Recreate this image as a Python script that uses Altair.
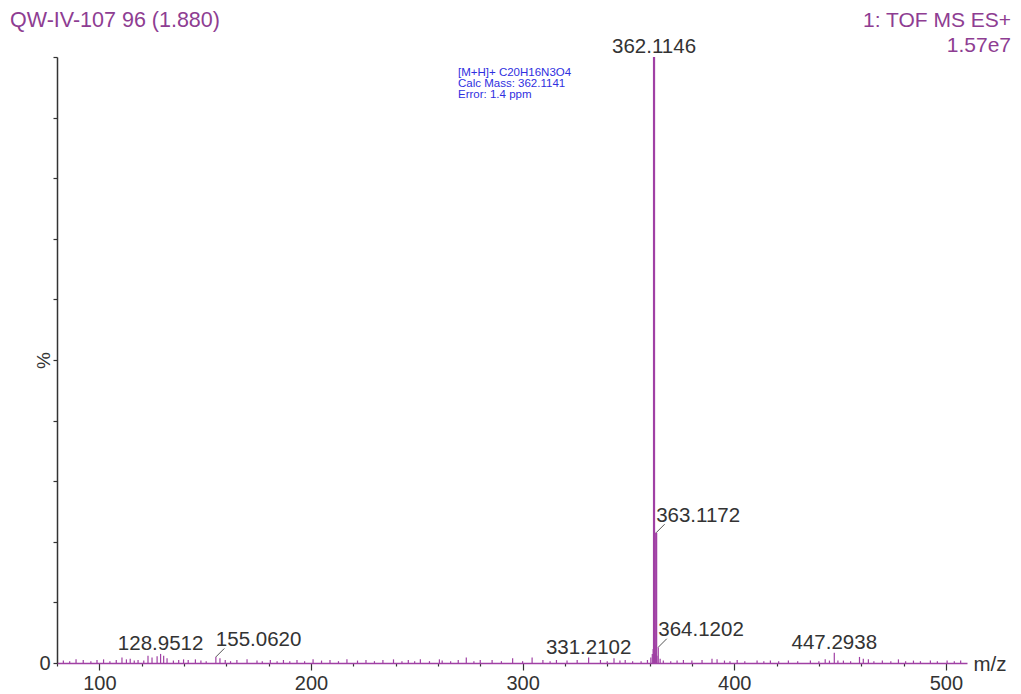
import altair as alt
import pandas as pd

# ---------------- data ----------------
peak_mz = [83, 86, 89, 92.4, 96, 98.9, 102, 105, 108, 110.7, 112.8, 114.6, 116.5, 118.3,
           121, 123, 124.9, 127.3, 128.9512, 130.4, 132, 135, 137.5, 139.8, 142, 145.4, 148,
           150.5, 155.0620, 157, 159.5, 162, 165, 169.8, 174.5, 177, 180.8, 184, 187, 190,
           193.4, 197, 201, 205, 209, 213, 217, 222, 226, 230, 234, 239, 243, 246, 249,
           251.7, 256, 260.7, 262, 266, 269.6, 273.4, 277, 280, 285.6, 290, 295.3, 300,
           304.5, 309.6, 313, 316, 321, 325.8, 331.2102, 336.8, 340, 343.2, 346, 348.5,
           352, 356, 359, 360.6, 361.3, 361.7, 362.1146, 362.5, 362.8, 363.1172, 363.5,
           364.1202, 365.0, 366.5, 370, 373, 376, 380, 384.8, 389.5, 391.9, 395.4, 398,
           401.4, 405, 410.8, 414, 417.1, 421, 425.6, 430, 436, 440, 443, 445, 447.2938,
           449, 451.6, 455, 459.2, 461, 463.4, 466, 470, 474, 477.6, 481, 484.7, 488,
           492.7, 496, 500.6, 504, 507]
peak_int = [0.4, 0.3, 0.6, 0.5, 0.3, 0.5, 0.6, 0.3, 0.5, 0.9, 0.6, 0.7, 0.4, 0.5,
            0.4, 1.2, 0.9, 1.1, 1.5, 1.2, 0.8, 0.4, 0.5, 0.6, 0.5, 0.6, 0.4,
            0.3, 1.0, 0.8, 0.5, 0.3, 0.5, 0.6, 0.4, 0.3, 0.5, 0.3, 0.5, 0.3,
            0.5, 0.3, 0.6, 0.4, 0.5, 0.3, 0.6, 0.4, 0.5, 0.3, 0.5, 0.6, 0.3, 0.5, 0.3,
            0.6, 0.3, 0.6, 0.4, 0.3, 0.5, 0.9, 0.3, 0.5, 0.5, 0.3, 0.8, 0.3,
            0.9, 0.5, 0.3, 0.5, 0.4, 0.5, 0.9, 0.5, 0.3, 0.8, 0.4, 0.5,
            0.3, 0.3, 0.5, 0.9, 1.5, 2.3, 100.0, 3.0, 1.6, 21.5, 1.2,
            2.6, 0.7, 0.4, 0.3, 0.4, 0.5, 0.4, 0.5, 0.7, 0.6, 0.4, 0.3,
            0.5, 0.3, 0.4, 0.3, 0.4, 0.3, 0.4, 0.3, 0.4, 0.3, 0.6, 0.4, 1.7,
            0.4, 0.4, 0.3, 1.0, 0.7, 0.6, 0.3, 0.4, 0.3, 0.6, 0.3, 0.4, 0.3,
            0.4, 0.3, 0.4, 0.3, 0.4]

label_mz = [128.9512, 155.0620, 331.2102, 362.1146, 363.1172, 364.1202, 447.2938]
label_int = [1.5, 1.0, 0.9, 100.0, 21.5, 2.6, 1.7]
label_text = ["128.9512", "155.0620", "331.2102", "362.1146", "363.1172", "364.1202", "447.2938"]
label_leader = [False, True, False, False, True, True, False]

x_tick_values = list(range(80, 511, 5))
y_tick_values = list(range(0, 101, 10))

header_left = "QW-IV-107 96 (1.880)"
header_right = ["1: TOF MS ES+", "1.57e7"]
annotation_lines = ["[M+H]+ C20H16N3O4", "Calc Mass: 362.1141", "Error: 1.4 ppm"]

# ---------------- chart ----------------
W, H = 910, 606
PURPLE = "#a040a4"
HEAD = "#8e3d92"
FONT = "Liberation Sans"

peaks = pd.DataFrame({"mz": peak_mz, "int": peak_int})
labels = pd.DataFrame({"mz": label_mz, "int": label_int, "text": label_text,
                       "leader": label_leader})

xs = alt.Scale(domain=[80, 510], nice=False, zero=False)
ys = alt.Scale(domain=[0, 100], nice=False)

x_axis = alt.Axis(
    values=x_tick_values, title="m/z", titleFont=FONT, titleFontSize=20.5,
    titleFontWeight="normal", titleColor="#333333", titleX=W + 6, titleY=7,
    titleAlign="left", titleBaseline="alphabetic",
    labelExpr="datum.value % 50 === 0 ? datum.label : ''",
    labelFont=FONT, labelFontSize=20, labelColor="#333333",
    labelBaseline="alphabetic", labelPadding=19, labelFlush=False,
    labelOverlap=False,
    domainColor=PURPLE, domainWidth=1.5, tickColor="#333333", tickWidth=1.2,
    tickSize={"condition": {"test": "datum.value % 25 === 0", "value": 7}, "value": 3},
    grid=False,
)
y_axis = alt.Axis(
    values=y_tick_values, title="%", titleFont=FONT, titleFontSize=19,
    titleFontWeight="normal", titleColor="#333333", titleX=-14, titleY=H / 2,
    titleAngle=-90, titleAlign="center", titleBaseline="middle",
    labelExpr="datum.value === 0 ? '0' : ''",
    labelFont=FONT, labelFontSize=20, labelColor="#333333", labelPadding=3,
    domainColor="#333333", domainWidth=1.5, tickColor="#333333", tickSize=4,
    tickWidth=1.2, grid=False,
)

peak_layer = alt.Chart(peaks).mark_rule(color=PURPLE).encode(
    x=alt.X("mz:Q", scale=xs, axis=x_axis),
    y=alt.Y("int:Q", scale=ys, axis=y_axis),
    y2=alt.datum(0),
    strokeWidth=alt.condition("datum.int > 10", alt.value(2.2), alt.value(1.2)),
)

leader_layer = alt.Chart(labels).transform_filter("datum.leader").transform_calculate(
    mz2="datum.mz + 4", int2="datum.int + 1.4"
).mark_rule(color="#555555", strokeWidth=1).encode(
    x=alt.X("mz:Q", scale=xs), y=alt.Y("int:Q", scale=ys),
    x2="mz2:Q", y2="int2:Q",
)

label_center = alt.Chart(labels).transform_filter("!datum.leader").mark_text(
    align="center", baseline="alphabetic", dy=-4, font=FONT, fontSize=20.5, color="#333333"
).encode(x=alt.X("mz:Q", scale=xs), y=alt.Y("int:Q", scale=ys), text="text:N")

label_left = alt.Chart(labels).transform_filter("datum.leader").mark_text(
    align="left", baseline="alphabetic", dx=0, dy=-11, font=FONT, fontSize=20.5, color="#333333"
).encode(x=alt.X("mz:Q", scale=xs), y=alt.Y("int:Q", scale=ys), text="text:N")

head_df = pd.DataFrame({"t": [header_left]})
head_left = alt.Chart(head_df).mark_text(
    align="left", baseline="alphabetic", font=FONT, fontSize=21.5, color=HEAD
).encode(x=alt.value(-47), y=alt.value(-30), text="t:N")

head_right = alt.Chart(head_df).mark_text(
    align="right", baseline="alphabetic", font=FONT, fontSize=21, color=HEAD,
    lineHeight=25, text=header_right
).encode(x=alt.value(W + 44), y=alt.value(-30))

annot = alt.Chart(head_df).mark_text(
    align="left", baseline="alphabetic", font=FONT, fontSize=11.5, color="#2f2fe0",
    lineHeight=11, text=annotation_lines
).encode(x=alt.value(401), y=alt.value(19))

chart = alt.layer(
    peak_layer, leader_layer, label_center, label_left, head_left, head_right, annot
).properties(
    width=W, height=H,
    padding={"left": 49, "top": 49, "right": 46, "bottom": 30},
    autosize=alt.AutoSizeParams(type="none"),
).configure_view(stroke=None)

chart.save("out.html", embed_options={"renderer": "svg", "actions": False})
